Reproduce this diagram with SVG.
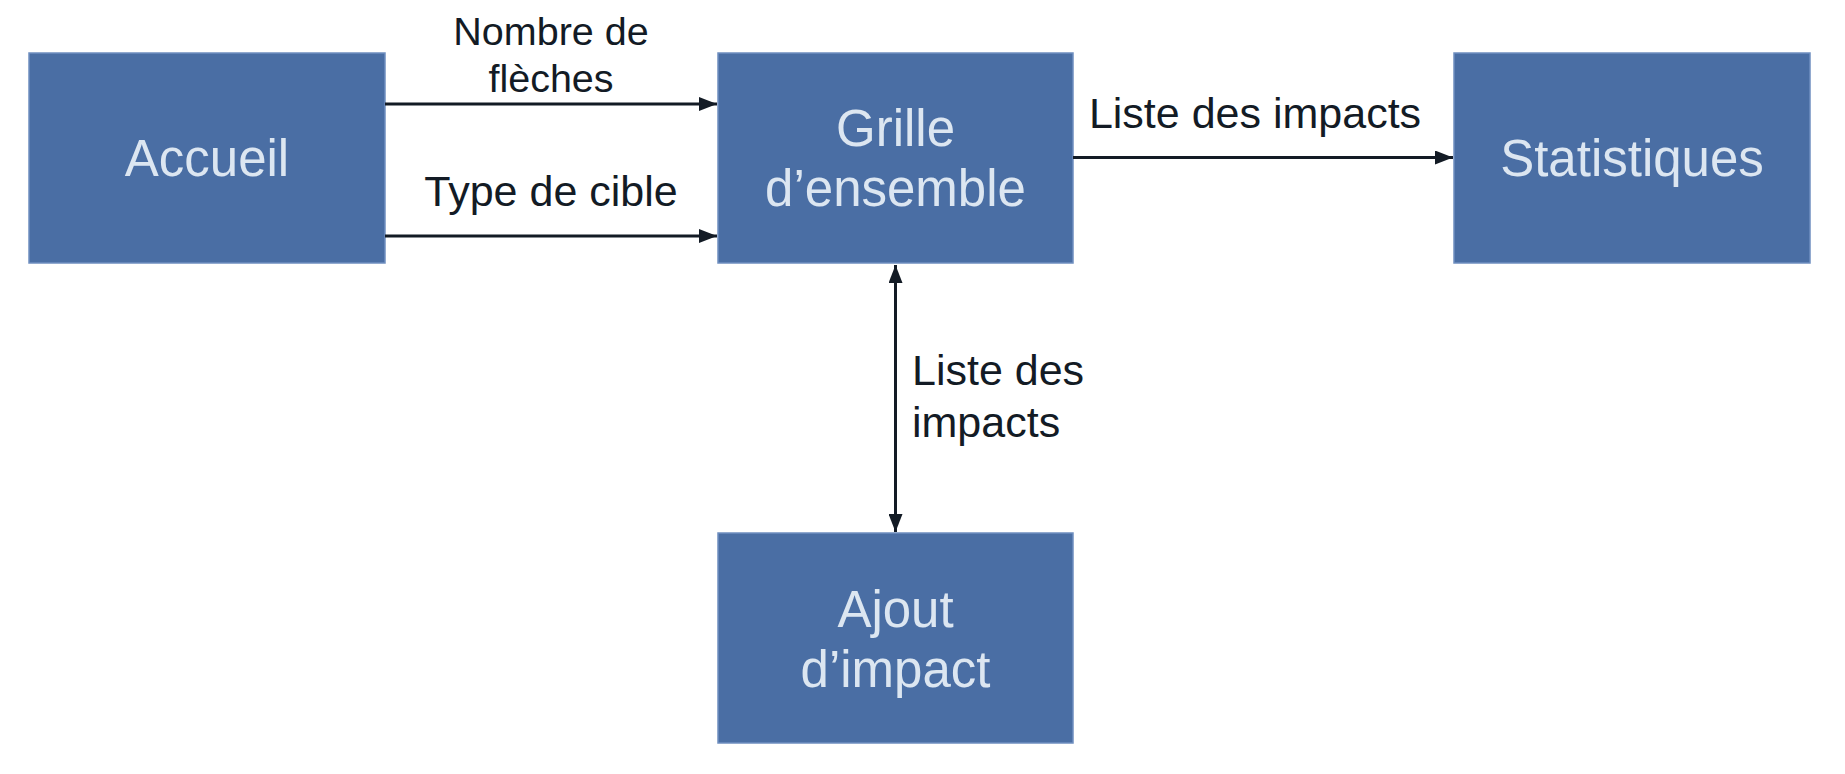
<svg xmlns="http://www.w3.org/2000/svg" width="1845" height="774" viewBox="0 0 1845 774">
<defs>
<style>
.box{fill:#4a6ea4;stroke:#6f8fc0;stroke-width:1.5}
.nt{font-family:"Liberation Sans",Arial,sans-serif;font-size:51px;fill:#dce6f1;text-anchor:middle}
.lb{font-family:"Liberation Sans",Arial,sans-serif;font-size:43px;fill:#131b25}
.sm{font-size:39.5px}
.ln{stroke:#131b25;stroke-width:3;fill:none}
</style>
<marker id="ah" viewBox="0 0 18 14" refX="18" refY="7" markerWidth="18" markerHeight="14" markerUnits="userSpaceOnUse" orient="auto-start-reverse">
<path d="M0,0 L18,7 L0,14 Z" fill="#131b25"/>
</marker>
</defs>
<rect width="1845" height="774" fill="#ffffff"/>
<g id="accueil">
<rect class="box" x="29" y="53" width="356" height="210"/>
<text class="nt" x="207" y="176">Accueil</text>
</g>
<g id="grille">
<rect class="box" x="718" y="53" width="355" height="210"/>
<text class="nt" x="895.5" y="146">Grille</text>
<text class="nt" x="895.5" y="206">d’ensemble</text>
</g>
<g id="statistiques">
<rect class="box" x="1454" y="53" width="356" height="210"/>
<text class="nt" x="1632" y="176">Statistiques</text>
</g>
<g id="ajout">
<rect class="box" x="718" y="533" width="355" height="210"/>
<text class="nt" x="895.5" y="627">Ajout</text>
<text class="nt" x="895.5" y="687">d’impact</text>
</g>
<g id="connectors">
<line class="ln" x1="385" y1="104" x2="717" y2="104" marker-end="url(#ah)"/>
<line class="ln" x1="385" y1="236" x2="717" y2="236" marker-end="url(#ah)"/>
<line class="ln" x1="1073" y1="157.5" x2="1453" y2="157.5" marker-end="url(#ah)"/>
<line class="ln" x1="895.5" y1="265" x2="895.5" y2="532" marker-start="url(#ah)" marker-end="url(#ah)"/>
<text class="lb sm" x="551" y="45" text-anchor="middle">Nombre de</text>
<text class="lb sm" x="551" y="92" text-anchor="middle">flèches</text>
<text class="lb" x="551" y="206" text-anchor="middle">Type de cible</text>
<text class="lb" x="1255" y="128" text-anchor="middle">Liste des impacts</text>
<text class="lb" x="912" y="385">Liste des</text>
<text class="lb" x="912" y="437">impacts</text>
</g>
</svg>
